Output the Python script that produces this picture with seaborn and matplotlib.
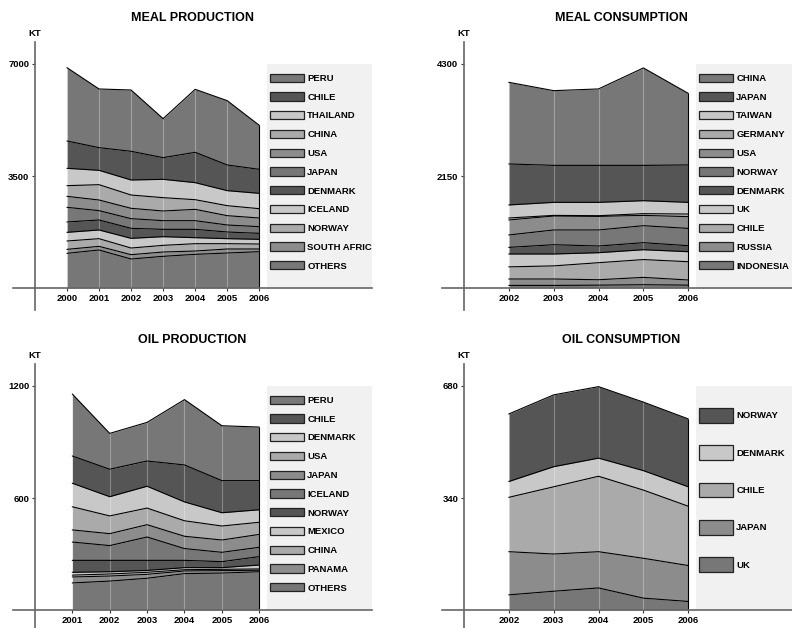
import numpy as np
import pandas as pd
import seaborn as sns
import matplotlib.pyplot as plt
from matplotlib.patches import Patch, Rectangle
from matplotlib.transforms import blended_transform_factory

# ---- data (kilotonnes), legend order = top of stack first ----
meal_prod_years = [2000, 2001, 2002, 2003, 2004, 2005, 2006]
meal_prod_names = ['PERU', 'CHILE', 'THAILAND', 'CHINA', 'USA', 'JAPAN',
                   'DENMARK', 'ICELAND', 'NORWAY', 'SOUTH AFRIC', 'OTHERS']
meal_prod_vals = [
    [2291, 1834, 1916, 1219, 1968, 2010, 1375],
    [854, 708, 896, 677, 948, 802, 750],
    [542, 448, 469, 573, 532, 469, 479],
    [333, 479, 416, 417, 302, 313, 291],
    [344, 333, 323, 302, 354, 291, 271],
    [458, 292, 302, 271, 271, 219, 209],
    [323, 312, 313, 229, 260, 208, 187],
    [271, 271, 302, 271, 188, 157, 146],
    [261, 240, 208, 208, 229, 166, 156],
    [125, 114, 136, 135, 104, 125, 84],
    [1083, 1188, 906, 990, 1052, 1094, 1135],
]

meal_cons_years = [2002, 2003, 2004, 2005, 2006]
meal_cons_names = ['CHINA', 'JAPAN', 'TAIWAN', 'GERMANY', 'USA', 'NORWAY',
                   'DENMARK', 'UK', 'CHILE', 'RUSSIA', 'INDONESIA']
meal_cons_vals = [
    [1567, 1434, 1467, 1870, 1374],
    [787, 710, 710, 678, 718],
    [250, 250, 256, 249, 224],
    [38, 12, 13, 33, 50],
    [288, 268, 261, 198, 226],
    [238, 283, 308, 326, 332],
    [127, 178, 128, 135, 115],
    [247, 228, 192, 189, 192],
    [233, 252, 327, 342, 351],
    [123, 123, 104, 141, 99],
    [50, 50, 55, 63, 55],
]

oil_prod_years = [2001, 2002, 2003, 2004, 2005, 2006]
oil_prod_names = ['PERU', 'CHILE', 'DENMARK', 'USA', 'JAPAN', 'ICELAND',
                  'NORWAY', 'MEXICO', 'CHINA', 'PANAMA', 'OTHERS']
oil_prod_vals = [
    [332, 192, 207, 350, 294, 287],
    [146, 147, 135, 198, 172, 156],
    [126, 103, 117, 101, 71, 67],
    [124, 95, 89, 83, 75, 65],
    [65, 64, 66, 66, 66, 69],
    [98, 79, 125, 63, 50, 50],
    [64, 61, 54, 39, 32, 45],
    [15, 12, 10, 11, 9, 21],
    [10, 11, 11, 7, 7, 7],
    [32, 27, 21, 14, 13, 8],
    [145, 155, 170, 195, 198, 205],
]

oil_cons_years = [2002, 2003, 2004, 2005, 2006]
oil_cons_names = ['NORWAY', 'DENMARK', 'CHILE', 'JAPAN', 'UK']
oil_cons_vals = [
    [205, 218, 217, 208, 206],
    [48, 61, 55, 59, 59],
    [165, 204, 229, 207, 180],
    [131, 113, 110, 121, 109],
    [46, 57, 67, 36, 26],
]

# grey cycle, starting from the bottom layer
shades = ['#777777', '#8c8c8c', '#aaaaaa', '#c8c8c8', '#555555']

sns.set_theme(style='white')
plt.rcParams['font.family'] = ['Liberation Sans', 'DejaVu Sans']
plt.rcParams['font.weight'] = 'bold'
plt.rcParams['text.color'] = 'black'
plt.rcParams['xtick.color'] = 'black'
plt.rcParams['ytick.color'] = 'black'

fig = plt.figure(figsize=(7.92, 6.28), dpi=100)
W_PX, H_PX = 792, 628


def make_ax(x0, y_top):
    # axes box in pixels: 359 wide, 268 high
    return fig.add_axes([x0 / W_PX, 1 - (y_top + 268) / H_PX, 359 / W_PX, 268 / H_PX])


def stacked_panel(ax, title, years, names, vals, top_tick, big_legend=False):
    df = pd.DataFrame(np.array(vals[::-1]).T, index=years, columns=names[::-1])
    cum = df.cumsum(axis=1)
    colors = {n: shades[i % len(shades)] for i, n in enumerate(df.columns)}

    # axis limits so that the year axis and zero line sit at fixed spots
    first, last = years[0], years[-1]
    span = (last - (first - 1)) / 0.625
    xl = (first - 1) - 0.061 * span
    ax.set_xlim(xl, xl + span)
    hgt = top_tick / 0.836
    yb = -0.082 * hgt
    ax.set_ylim(yb, yb + hgt)

    # legend background panel
    ax.add_patch(Rectangle((0.7075, 0.082), 0.3, 0.836, transform=ax.transAxes,
                           facecolor='#f1f1f1', edgecolor='none', zorder=0))

    lower = np.zeros(len(years))
    for n in df.columns:
        upper = cum[n].values
        ax.fill_between(years, lower, upper, color=colors[n], lw=0, zorder=1)
        sns.lineplot(x=years, y=upper, color='black', lw=0.8, ax=ax, zorder=3)
        lower = upper
    total = cum.iloc[:, -1].values
    ax.vlines(years, 0, total, color='white', alpha=0.3, lw=0.8, zorder=2)
    ax.vlines([last], 0, [total[-1]], color='black', lw=0.8, zorder=3)

    # axes crossing at (first-1, 0)
    for s in ['top', 'right']:
        ax.spines[s].set_visible(False)
    ax.spines['left'].set_position(('data', first - 1))
    ax.spines['bottom'].set_position(('data', 0))
    for s in ['left', 'bottom']:
        ax.spines[s].set_color('#666666')
        ax.spines[s].set_linewidth(1.2)
        ax.spines[s].set_zorder(4)
    ax.set_xticks(years)
    ax.set_xticklabels([str(y) for y in years], fontsize=6.8, fontweight='bold')
    ax.set_yticks([top_tick / 2, top_tick])
    ax.set_yticklabels([f'{top_tick / 2:g}', f'{top_tick:g}'], fontsize=6.8, fontweight='bold')
    ax.tick_params(axis='x', length=2, width=0.8, pad=2, color='#333333', bottom=True)
    ax.tick_params(axis='y', length=2.5, width=0.8, pad=1.5, color='#333333', left=True)

    ax.set_title(title, fontsize=9, fontweight='bold', pad=15, color='black')
    tr = blended_transform_factory(ax.transData, ax.transAxes)
    ax.text(first - 1, 1.015, 'KT', transform=tr, ha='center', va='bottom',
            fontsize=6.8, fontweight='bold')

    handles = [Patch(facecolor=colors[n], edgecolor='#222222', lw=0.9) for n in names]
    if big_legend:
        leg = ax.legend(handles, names, loc='upper left', bbox_to_anchor=(0.716, 0.836),
                        frameon=False, borderpad=0, borderaxespad=0, handlelength=3.6,
                        handleheight=2.0, handletextpad=0.35, labelspacing=2.41,
                        prop={'weight': 'bold', 'size': 6.8})
    else:
        leg = ax.legend(handles, names, loc='upper left', bbox_to_anchor=(0.716, 0.882),
                        frameon=False, borderpad=0, borderaxespad=0, handlelength=3.6,
                        handleheight=0.95, handletextpad=0.35, labelspacing=1.0,
                        prop={'weight': 'bold', 'size': 6.8})
    leg.set_zorder(5)


ax1 = make_ax(13, 42)
stacked_panel(ax1, 'MEAL PRODUCTION', meal_prod_years, meal_prod_names, meal_prod_vals, 7000)
ax2 = make_ax(442, 42)
stacked_panel(ax2, 'MEAL CONSUMPTION', meal_cons_years, meal_cons_names, meal_cons_vals, 4300)
ax3 = make_ax(13, 364)
stacked_panel(ax3, 'OIL PRODUCTION', oil_prod_years, oil_prod_names, oil_prod_vals, 1200)
ax4 = make_ax(442, 364)
stacked_panel(ax4, 'OIL CONSUMPTION', oil_cons_years, oil_cons_names, oil_cons_vals, 680,
              big_legend=True)

plt.savefig('out.png', dpi=100)
